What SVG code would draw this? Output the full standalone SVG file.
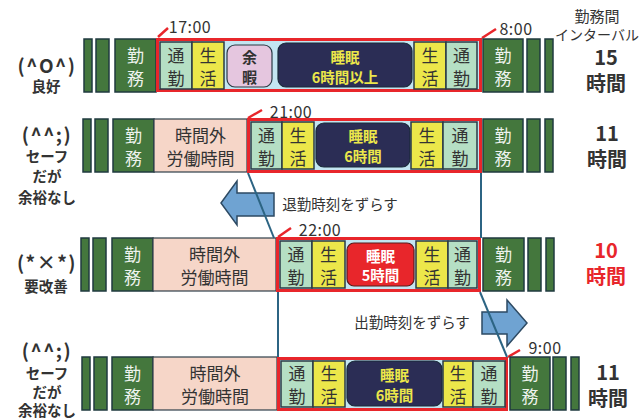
<svg xmlns="http://www.w3.org/2000/svg" width="643" height="419" viewBox="0 0 643 419">
<style>
text{font-family:"Noto Sans CJK JP","Noto Sans",sans-serif;text-anchor:middle;dominant-baseline:central;}
.bar{fill:#44773d;stroke:#1f3a3f;stroke-width:1.5;}
.work{fill:#44773d;stroke:#1f3a3f;stroke-width:1.5;}
.wt{fill:#eef3ee;font-size:17px;}
.ot{fill:#f6d6c8;stroke:#2f3f4a;stroke-width:1.2;}
.dt{fill:#333;font-size:17px;}
.com{fill:#b5dfc4;stroke:#2a3a45;stroke-width:1.5;}
.life{fill:#ece74a;stroke:#2a3a45;stroke-width:1.5;}
.red{fill:#c3e5f1;stroke:#e8262b;stroke-width:3;}
.sleep{fill:#2b2d55;stroke:#1a2a3a;stroke-width:1.2;}
.st{fill:#ece74a;font-size:14.5px;font-weight:bold;}
.tick{stroke:#e8262b;stroke-width:2.5;fill:none;}
.time{fill:#333;font-size:16px;letter-spacing:0.5px;}
.face{fill:#333;font-size:19px;font-weight:bold;letter-spacing:1.5px;}
.fl{fill:#333;font-size:14.5px;font-weight:bold;}
.iv{fill:#333;font-size:20px;font-weight:bold;}
.conn{stroke:#2c6483;stroke-width:2;fill:none;}
.arrow{fill:#6fa3d2;stroke:#2d4a63;stroke-width:1.5;}
.at{fill:#333;font-size:14.5px;}
</style>

<!-- header -->
<g id="header">
<text x="597" y="15" style="fill:#333;font-size:15px;">勤務間</text>
<text x="597" y="34" style="fill:#333;font-size:14px;">インターバル</text>
</g>

<!-- Row 1 -->
<g id="row1-label">
<text class="face" x="47" y="64">(^O^)</text>
<text class="fl" x="46" y="85">良好</text>
</g>
<g id="row1-left">
<rect class="bar" x="84" y="39" width="8" height="53"/>
<rect class="bar" x="96" y="39" width="13" height="53"/>
<rect class="work" x="115" y="39" width="41" height="53"/>
<text class="wt" x="135.5" y="54">勤</text><text class="wt" x="135.5" y="77">務</text>
</g>
<g id="row1-rest">
<rect class="red" x="157.5" y="39.5" width="323" height="51"/>
<rect class="com" x="160" y="42" width="32" height="47"/>
<text class="dt" x="176" y="54">通</text><text class="dt" x="176" y="77">勤</text>
<rect class="life" x="192" y="42" width="32" height="47"/>
<text class="dt" x="208" y="54">生</text><text class="dt" x="208" y="77">活</text>
<rect x="227" y="45" width="45" height="42" rx="8" style="fill:#e5c6df;stroke:#2a3a45;stroke-width:1.2;"/>
<text x="249.5" y="56" style="fill:#333;font-size:15px;font-weight:bold;">余</text>
<text x="249.5" y="76" style="fill:#333;font-size:15px;font-weight:bold;">暇</text>
<rect class="sleep" x="278" y="43" width="134" height="44" rx="8"/>
<text class="st" x="345" y="56">睡眠</text><text class="st" x="345" y="76">6時間以上</text>
<rect class="life" x="414" y="42" width="32" height="47"/>
<text class="dt" x="430" y="54">生</text><text class="dt" x="430" y="77">活</text>
<rect class="com" x="446" y="42" width="31" height="47"/>
<text class="dt" x="461.5" y="54">通</text><text class="dt" x="461.5" y="77">勤</text>
<line class="tick" x1="158" y1="37" x2="168" y2="28"/>
<text class="time" x="190" y="26">17:00</text>
<line class="tick" x1="482" y1="38" x2="496" y2="29"/>
<text class="time" x="516" y="28">8:00</text>
</g>
<g id="row1-right">
<rect class="work" x="483" y="39" width="40" height="53"/>
<text class="wt" x="503" y="54">勤</text><text class="wt" x="503" y="77">務</text>
<rect class="bar" x="527" y="39" width="13" height="53"/>
<rect class="bar" x="545" y="39" width="8" height="53"/>
</g>
<g id="row1-interval">
<text class="iv" x="606" y="56">15</text>
<text class="iv" x="606" y="82">時間</text>
</g>

<!-- Row 2 -->
<g id="row2-label">
<text class="face" x="47" y="133">(^^;)</text>
<text class="fl" x="47" y="155">セーフ</text>
<text class="fl" x="47" y="175">だが</text>
<text class="fl" x="47" y="196">余裕なし</text>
</g>
<g id="row2-left">
<rect class="bar" x="83" y="119" width="8" height="53"/>
<rect class="bar" x="95" y="119" width="13" height="53"/>
<rect class="work" x="113" y="119" width="41" height="53"/>
<text class="wt" x="133.5" y="134">勤</text><text class="wt" x="133.5" y="157">務</text>
<rect class="ot" x="154" y="119" width="93" height="53"/>
<text class="dt" x="200.5" y="134">時間外</text><text class="dt" x="200.5" y="157">労働時間</text>
</g>
<g id="row2-rest">
<rect class="red" x="248.5" y="119.5" width="232" height="52"/>
<rect class="com" x="251" y="122" width="31" height="47"/>
<text class="dt" x="266.5" y="134">通</text><text class="dt" x="266.5" y="157">勤</text>
<rect class="life" x="282" y="122" width="32" height="47"/>
<text class="dt" x="298" y="134">生</text><text class="dt" x="298" y="157">活</text>
<rect class="sleep" x="316" y="123" width="94" height="44" rx="8"/>
<text class="st" x="363" y="135">睡眠</text><text class="st" x="363" y="155">6時間</text>
<rect class="life" x="411" y="122" width="32" height="47"/>
<text class="dt" x="427" y="134">生</text><text class="dt" x="427" y="157">活</text>
<rect class="com" x="443" y="122" width="34" height="47"/>
<text class="dt" x="460" y="134">通</text><text class="dt" x="460" y="157">勤</text>
<line class="tick" x1="248" y1="118" x2="262" y2="110"/>
<text class="time" x="291" y="111">21:00</text>
</g>
<g id="row2-right">
<rect class="work" x="483" y="119" width="40" height="53"/>
<text class="wt" x="503" y="134">勤</text><text class="wt" x="503" y="157">務</text>
<rect class="bar" x="527" y="119" width="13" height="53"/>
<rect class="bar" x="545" y="119" width="8" height="53"/>
</g>
<g id="row2-interval">
<text class="iv" x="607" y="132">11</text>
<text class="iv" x="607" y="158">時間</text>
</g>

<!-- Arrow 1 -->
<g id="arrow-left">
<polygon class="arrow" points="221,203 237,181 237,193 274,193 274,216 237,216 237,225"/>
<text class="at" x="340" y="203">退勤時刻をずらす</text>
</g>

<!-- Row 3 -->
<g id="row3-label">
<text class="face" x="47" y="261">(*×*)</text>
<text class="fl" x="46" y="285">要改善</text>
</g>
<g id="row3-left">
<rect class="bar" x="81" y="238" width="8" height="53"/>
<rect class="bar" x="93" y="238" width="13" height="53"/>
<rect class="work" x="112" y="238" width="41" height="53"/>
<text class="wt" x="132.5" y="253">勤</text><text class="wt" x="132.5" y="276">務</text>
<rect class="ot" x="153" y="238" width="123" height="53"/>
<text class="dt" x="214.5" y="253">時間外</text><text class="dt" x="214.5" y="276">労働時間</text>
</g>
<g id="row3-rest">
<rect class="red" x="277.5" y="238.5" width="202" height="52"/>
<rect class="com" x="280" y="241" width="32" height="47"/>
<text class="dt" x="296" y="253">通</text><text class="dt" x="296" y="276">勤</text>
<rect class="life" x="312" y="241" width="33" height="47"/>
<text class="dt" x="328.5" y="253">生</text><text class="dt" x="328.5" y="276">活</text>
<rect x="347" y="243" width="67" height="43" rx="7" style="fill:#e8262b;stroke:#5a1a1a;stroke-width:1.2;"/>
<text x="380.5" y="255" style="fill:#fff;font-size:14.5px;font-weight:bold;">睡眠</text>
<text x="380.5" y="274" style="fill:#fff;font-size:14.5px;font-weight:bold;">5時間</text>
<rect class="life" x="416" y="241" width="32" height="47"/>
<text class="dt" x="432" y="253">生</text><text class="dt" x="432" y="276">活</text>
<rect class="com" x="448" y="241" width="29" height="47"/>
<text class="dt" x="462.5" y="253">通</text><text class="dt" x="462.5" y="276">勤</text>
<line class="tick" x1="278" y1="237" x2="291" y2="228"/>
<text class="time" x="320" y="229">22:00</text>
</g>
<g id="row3-right">
<rect class="work" x="483" y="238" width="41" height="53"/>
<text class="wt" x="503.5" y="253">勤</text><text class="wt" x="503.5" y="276">務</text>
<rect class="bar" x="528" y="238" width="13" height="53"/>
<rect class="bar" x="546" y="238" width="8" height="53"/>
</g>
<g id="row3-interval">
<text class="iv" x="606" y="249" style="fill:#e8262b;">10</text>
<text class="iv" x="606" y="275" style="fill:#e8262b;">時間</text>
</g>

<!-- Arrow 2 -->
<g id="arrow-right">
<polygon class="arrow" points="482,312 507,312 507,300 527,323 507,346 507,334 482,334"/>
<text class="at" x="412" y="321">出勤時刻をずらす</text>
</g>

<!-- Row 4 -->
<g id="row4-label">
<text class="face" x="47" y="349">(^^;)</text>
<text class="fl" x="47" y="372">セーフ</text>
<text class="fl" x="47" y="391">だが</text>
<text class="fl" x="47" y="409">余裕なし</text>
</g>
<g id="row4-left">
<rect class="bar" x="82" y="357" width="8" height="53"/>
<rect class="bar" x="94" y="357" width="13" height="53"/>
<rect class="work" x="112" y="357" width="41" height="53"/>
<text class="wt" x="132.5" y="372">勤</text><text class="wt" x="132.5" y="395">務</text>
<rect class="ot" x="153" y="357" width="124" height="53"/>
<text class="dt" x="215" y="372">時間外</text><text class="dt" x="215" y="395">労働時間</text>
</g>
<g id="row4-rest">
<rect class="red" x="278.5" y="358.5" width="228" height="51"/>
<rect class="com" x="281" y="361" width="32" height="46"/>
<text class="dt" x="297" y="372">通</text><text class="dt" x="297" y="395">勤</text>
<rect class="life" x="313" y="361" width="32" height="46"/>
<text class="dt" x="329" y="372">生</text><text class="dt" x="329" y="395">活</text>
<rect class="sleep" x="347" y="361" width="95" height="45" rx="8"/>
<text class="st" x="394.5" y="374">睡眠</text><text class="st" x="394.5" y="394">6時間</text>
<rect class="life" x="443" y="361" width="30" height="46"/>
<text class="dt" x="458" y="372">生</text><text class="dt" x="458" y="395">活</text>
<rect class="com" x="473" y="361" width="32" height="46"/>
<text class="dt" x="489" y="372">通</text><text class="dt" x="489" y="395">勤</text>
<line class="tick" x1="508" y1="357" x2="520" y2="350"/>
<text class="time" x="545" y="347">9:00</text>
</g>
<g id="row4-right">
<rect class="work" x="510" y="357" width="40" height="53"/>
<text class="wt" x="530" y="372">勤</text><text class="wt" x="530" y="395">務</text>
<rect class="bar" x="553" y="357" width="13" height="53"/>
<rect class="bar" x="571" y="357" width="8" height="53"/>
</g>
<g id="row4-interval">
<text class="iv" x="608" y="371">11</text>
<text class="iv" x="608" y="397">時間</text>
</g>

<!-- connectors -->
<g id="connectors">
<line class="conn" x1="248" y1="173" x2="274" y2="238"/>
<line class="conn" x1="481" y1="173" x2="481" y2="238"/>
<line class="conn" x1="278" y1="292" x2="278" y2="357"/>
<line class="conn" x1="480" y1="292" x2="507" y2="357"/>
</g>
</svg>
